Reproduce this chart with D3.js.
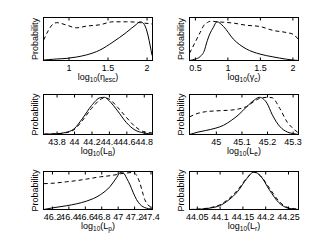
<!DOCTYPE html>
<html>
<head>
<meta charset="utf-8">
<script src="https://cdn.jsdelivr.net/npm/d3@7"></script>
<style>
  body { margin: 0; background: #fff; }
  text { font-family: "Liberation Sans", Arial, Helvetica, sans-serif; fill: #000; }
</style>
</head>
<body>
<script>

// panel 1 : log10(eta_esc)
var p1X      = [0.68, 0.74, 0.81, 0.85, 0.98, 1.10, 1.23, 1.40, 1.57, 1.74, 1.87, 1.92, 1.97, 2.07];
var p1Solid  = [0.01, 0.02, 0.03, 0.035, 0.05, 0.08, 0.13, 0.24, 0.43, 0.65, 0.84, 0.90, 0.84, 0.12];
var p1Dashed = [0.47, 0.69, 0.86, 0.88, 0.82, 0.76, 0.80, 0.83, 0.90, 0.90, 0.89, 0.88, 0.87, 0.85];
var p1Ticks  = [1, 1.5, 2];

// panel 2 : log10(gamma_c)
var p2X      = [0.417, 0.5, 0.58, 0.65, 0.68, 0.73, 0.78, 0.84, 0.94, 1.09, 1.29, 1.50, 1.70, 1.91, 2.01, 2.094];
var p2Solid  = [0, 0.03, 0.09, 0.25, 0.41, 0.62, 0.76, 0.90, 0.79, 0.50, 0.27, 0.15, 0.085, 0.03, 0.01, 0];
var p2Dashed = [0.17, 0.41, 0.65, 0.84, 0.87, 0.91, 0.91, 0.90, 0.89, 0.87, 0.82, 0.79, 0.70, 0.65, 0.61, 0.49];
var p2Ticks  = [0.5, 1, 1.5, 2];

// panel 3 : log10(L_B)
var p3X      = [43.66, 43.8, 43.9, 44.0, 44.1, 44.2, 44.3, 44.35, 44.4, 44.5, 44.6, 44.7, 44.8, 44.9];
var p3Solid  = [0.01, 0.02, 0.05, 0.14, 0.41, 0.72, 0.92, 0.93, 0.85, 0.59, 0.30, 0.11, 0.04, 0.01];
var p3Dashed = [0.01, 0.015, 0.04, 0.12, 0.36, 0.65, 0.87, 0.92, 0.89, 0.68, 0.43, 0.20, 0.07, 0.04];
var p3Ticks  = [43.8, 44, 44.2, 44.4, 44.6, 44.8];

// panel 4 : log10(L_e)
var p4X      = [44.897, 44.93, 44.96, 45.0, 45.03, 45.06, 45.09, 45.12, 45.15, 45.17, 45.2, 45.22, 45.25, 45.28, 45.3, 45.323];
var p4Solid  = [0, 0.06, 0.10, 0.16, 0.23, 0.35, 0.50, 0.69, 0.86, 0.93, 0.78, 0.50, 0.20, 0.06, 0.025, 0];
var p4Dashed = [0.44, 0.53, 0.57, 0.59, 0.60, 0.61, 0.64, 0.70, 0.83, 0.90, 0.93, 0.92, 0.65, 0.30, 0.16, 0.04];
var p4Ticks  = [45, 45.1, 45.2, 45.3];

// panel 5 : log10(L_p)
var p5X      = [46.10, 46.2, 46.38, 46.5, 46.62, 46.79, 46.91, 46.99, 47.03, 47.07, 47.11, 47.15, 47.19, 47.23, 47.27, 47.31, 47.33, 47.42];
var p5Solid  = [0, 0.04, 0.10, 0.15, 0.22, 0.39, 0.61, 0.85, 0.97, 0.96, 0.82, 0.65, 0.44, 0.26, 0.14, 0.07, 0.05, 0.01];
var p5Dashed = [0.68, 0.69, 0.73, 0.76, 0.80, 0.86, 0.89, 0.92, 0.94, 0.95, 0.96, 0.97, 0.97, 0.90, 0.70, 0.40, 0.26, 0.04];
var p5Ticks  = [46.2, 46.4, 46.6, 46.8, 47, 47.2, 47.4];

// panel 6 : log10(L_r)
var p6X      = [44.034, 44.06, 44.08, 44.10, 44.12, 44.14, 44.16, 44.175, 44.19, 44.21, 44.23, 44.25, 44.273];
var p6Solid  = [0, 0.01, 0.04, 0.10, 0.25, 0.48, 0.82, 0.99, 0.88, 0.50, 0.18, 0.035, 0];
var p6Dashed = [0, 0.015, 0.05, 0.12, 0.28, 0.52, 0.83, 0.98, 0.88, 0.55, 0.22, 0.05, 0.01];
var p6Ticks  = [44.05, 44.1, 44.15, 44.2, 44.25];

var yLabel = "Probability";

//layout: columns and rows of the subplot grid
var cols = [[43.5, 152.5], [189.5, 298.5]],
    rows = [[17.5, 60.5], [94.5, 134.5], [171.5, 209.5]];

var panels = [
  {x: p1X, s: p1Solid, d: p1Dashed, ticks: p1Ticks, dom: [0.68, 2.076],   name: "\u03B7", sub: "esc", c: 0, r: 0},
  {x: p2X, s: p2Solid, d: p2Dashed, ticks: p2Ticks, dom: [0.417, 2.094],  name: "\u03B3", sub: "c",   c: 1, r: 0},
  {x: p3X, s: p3Solid, d: p3Dashed, ticks: p3Ticks, dom: [43.65, 44.9],   name: "L",      sub: "B",   c: 0, r: 1},
  {x: p4X, s: p4Solid, d: p4Dashed, ticks: p4Ticks, dom: [44.897, 45.323],name: "L",      sub: "e",   c: 1, r: 1},
  {x: p5X, s: p5Solid, d: p5Dashed, ticks: p5Ticks, dom: [46.097, 47.424],name: "L",      sub: "p",   c: 0, r: 2},
  {x: p6X, s: p6Solid, d: p6Dashed, ticks: p6Ticks, dom: [44.034, 44.273],name: "L",      sub: "r",   c: 1, r: 2}
];

var svg = d3.select("body").append("svg")
    .attr("width", 332)
    .attr("height", 250);

panels.forEach(function(p) {
  var left = cols[p.c][0], right = cols[p.c][1],
      top = rows[p.r][0], bottom = rows[p.r][1];

  var x = d3.scaleLinear().domain(p.dom).range([left, right]);
  var y = d3.scaleLinear().domain([0, 1]).range([bottom, top]);

  var line = d3.line()
      .x(function(d) { return x(d[0]); })
      .y(function(d) { return y(d[1]); })
      .curve(d3.curveMonotoneX);

  // curves
  svg.append("path")
      .datum(d3.zip(p.x, p.d))
      .attr("d", line)
      .attr("fill", "none")
      .attr("stroke", "#000")
      .attr("stroke-width", 1)
      .attr("stroke-dasharray", "4,3");

  svg.append("path")
      .datum(d3.zip(p.x, p.s))
      .attr("d", line)
      .attr("fill", "none")
      .attr("stroke", "#000")
      .attr("stroke-width", 1);

  // bottom ticks (inside) with labels
  var bx = svg.append("g")
      .attr("transform", "translate(0," + bottom + ")")
      .call(d3.axisBottom(x).tickValues(p.ticks)
              .tickSizeInner(-3).tickSizeOuter(0).tickPadding(4)
              .tickFormat(function(d) { return String(d); }));
  bx.select(".domain").remove();
  bx.selectAll("text").style("font-size", "9px").style("font-family", null);
  bx.selectAll("line").attr("stroke", "#000");

  // top ticks (inside), no labels
  var tx = svg.append("g")
      .attr("transform", "translate(0," + top + ")")
      .call(d3.axisTop(x).tickValues(p.ticks)
              .tickSizeInner(-3).tickSizeOuter(0).tickFormat(""));
  tx.select(".domain").remove();
  tx.selectAll("line").attr("stroke", "#000");

  // box
  svg.append("rect")
      .attr("x", left).attr("y", top)
      .attr("width", right - left).attr("height", bottom - top)
      .attr("fill", "none")
      .attr("stroke", "#000")
      .attr("stroke-width", 1);

  // y label
  svg.append("text")
      .attr("transform", "translate(" + (left - 6) + "," + ((top + bottom) / 2) + ") rotate(-90)")
      .style("text-anchor", "middle")
      .style("font-size", "9px")
      .text(yLabel);

  // x label log10(name_sub)
  var t = svg.append("text")
      .attr("x", (left + right) / 2)
      .attr("y", bottom + 19)
      .style("text-anchor", "middle")
      .style("font-size", "9px");
  t.append("tspan").text("log");
  t.append("tspan").attr("dy", 2.5).style("font-size", "6.5px").text("10");
  t.append("tspan").attr("dy", -2.5).text("(" + p.name);
  t.append("tspan").attr("dy", 2.5).style("font-size", "6.5px").text(p.sub);
  t.append("tspan").attr("dy", -2.5).text(")");
});

</script>
</body>
</html>
